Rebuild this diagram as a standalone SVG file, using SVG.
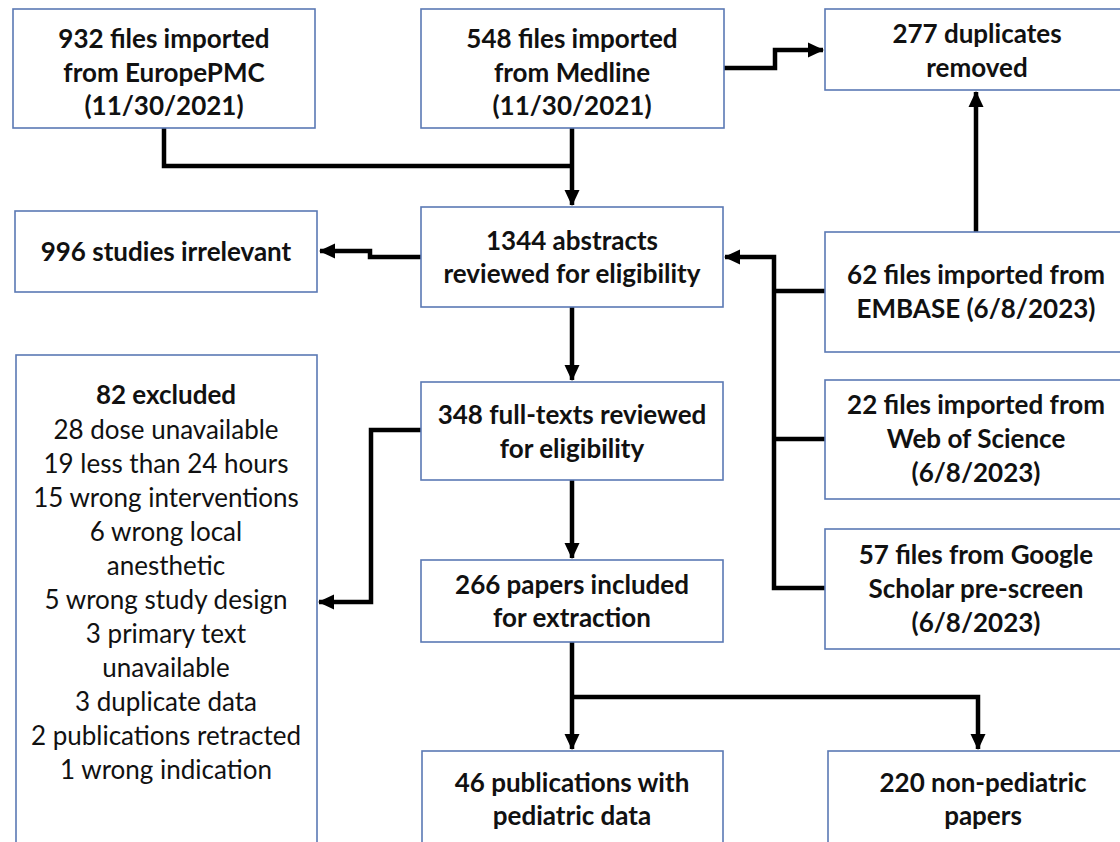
<svg xmlns="http://www.w3.org/2000/svg" width="1120" height="842" viewBox="0 0 1120 842">
<style>
.box{fill:#fff;stroke:#5b79b4;stroke-width:1.6}
.t{font-family:Lato,"Open Sans","Liberation Sans",sans-serif;font-size:26px;font-weight:bold;fill:#111;text-anchor:middle}
.r{font-weight:normal}
.c{fill:none;stroke:#000;stroke-width:4.5;stroke-linejoin:miter}
</style>
<defs>
<marker id="ah" markerUnits="userSpaceOnUse" markerWidth="16" markerHeight="16" viewBox="0 0 16 16" refX="15" refY="8" orient="auto">
<path d="M0,0.5 L16,8 L0,15.5 Z" fill="#000"/>
</marker>
</defs>
<rect width="1120" height="842" fill="#fff"/>
<g id="connectors">
<path class="c" d="M164,128 V166 H572"/>
<path class="c" d="M572,128 V205" marker-end="url(#ah)"/>
<path class="c" d="M724,68 H775 V50 H823" marker-end="url(#ah)"/>
<path class="c" d="M976,232 V92" marker-end="url(#ah)"/>
<path class="c" d="M421,257 H370 V251 H320" marker-end="url(#ah)"/>
<path class="c" d="M825,588 H774 V257 H725" marker-end="url(#ah)"/>
<path class="c" d="M825,291 H774"/>
<path class="c" d="M825,439 H774"/>
<path class="c" d="M572,307 V380" marker-end="url(#ah)"/>
<path class="c" d="M421,430 H371 V602 H319" marker-end="url(#ah)"/>
<path class="c" d="M572,480 V558" marker-end="url(#ah)"/>
<path class="c" d="M572,642 V749" marker-end="url(#ah)"/>
<path class="c" d="M572,697 H978 V749" marker-end="url(#ah)"/>
</g>
<g id="europepmc">
<rect class="box" x="13" y="9" width="302" height="119"/>
<text class="t" x="164" y="48">932 files imported</text>
<text class="t" x="164" y="82">from EuropePMC</text>
<text class="t" x="164" y="115">(11/30/2021)</text>
</g>
<g id="medline">
<rect class="box" x="421" y="9" width="303" height="119"/>
<text class="t" x="572" y="48">548 files imported</text>
<text class="t" x="572" y="82">from Medline</text>
<text class="t" x="572" y="115">(11/30/2021)</text>
</g>
<g id="duplicates">
<rect class="box" x="825" y="9" width="306" height="81"/>
<text class="t" x="977" y="43">277 duplicates</text>
<text class="t" x="977" y="77">removed</text>
</g>
<g id="irrelevant">
<rect class="box" x="15" y="211" width="302" height="81"/>
<text class="t" x="166" y="261">996 studies irrelevant</text>
</g>
<g id="abstracts">
<rect class="box" x="421" y="207" width="302" height="100"/>
<text class="t" x="572" y="250">1344 abstracts</text>
<text class="t" x="572" y="283">reviewed for eligibility</text>
</g>
<g id="embase">
<rect class="box" x="825" y="232" width="302" height="120"/>
<text class="t" x="976" y="284">62 files imported from</text>
<text class="t" x="976" y="318">EMBASE (6/8/2023)</text>
</g>
<g id="excluded">
<rect class="box" x="16" y="355" width="301" height="500"/>
<text class="t" x="166" y="404">82 excluded</text>
<text class="t r" x="166" y="439">28 dose unavailable</text>
<text class="t r" x="166" y="473">19 less than 24 hours</text>
<text class="t r" x="166" y="507">15 wrong interventions</text>
<text class="t r" x="166" y="541">6 wrong local</text>
<text class="t r" x="166" y="575">anesthetic</text>
<text class="t r" x="166" y="609">5 wrong study design</text>
<text class="t r" x="166" y="643">3 primary text</text>
<text class="t r" x="166" y="677">unavailable</text>
<text class="t r" x="166" y="711">3 duplicate data</text>
<text class="t r" x="166" y="745">2 publications retracted</text>
<text class="t r" x="166" y="779">1 wrong indication</text>
</g>
<g id="fulltexts">
<rect class="box" x="421" y="382" width="302" height="98"/>
<text class="t" x="572" y="424">348 full-texts reviewed</text>
<text class="t" x="572" y="458">for eligibility</text>
</g>
<g id="wos">
<rect class="box" x="825" y="380" width="302" height="119"/>
<text class="t" x="976" y="414">22 files imported from</text>
<text class="t" x="976" y="448">Web of Science</text>
<text class="t" x="976" y="482">(6/8/2023)</text>
</g>
<g id="included">
<rect class="box" x="421" y="560" width="302" height="82"/>
<text class="t" x="572" y="594">266 papers included</text>
<text class="t" x="572" y="627">for extraction</text>
</g>
<g id="scholar">
<rect class="box" x="825" y="529" width="302" height="120"/>
<text class="t" x="976" y="564">57 files from Google</text>
<text class="t" x="976" y="598">Scholar pre-screen</text>
<text class="t" x="976" y="632">(6/8/2023)</text>
</g>
<g id="pediatric">
<rect class="box" x="422" y="751" width="301" height="110"/>
<text class="t" x="572" y="792">46 publications with</text>
<text class="t" x="572" y="825">pediatric data</text>
</g>
<g id="nonpediatric">
<rect class="box" x="828" y="751" width="310" height="110"/>
<text class="t" x="983" y="792">220 non-pediatric</text>
<text class="t" x="983" y="825">papers</text>
</g>
</svg>
